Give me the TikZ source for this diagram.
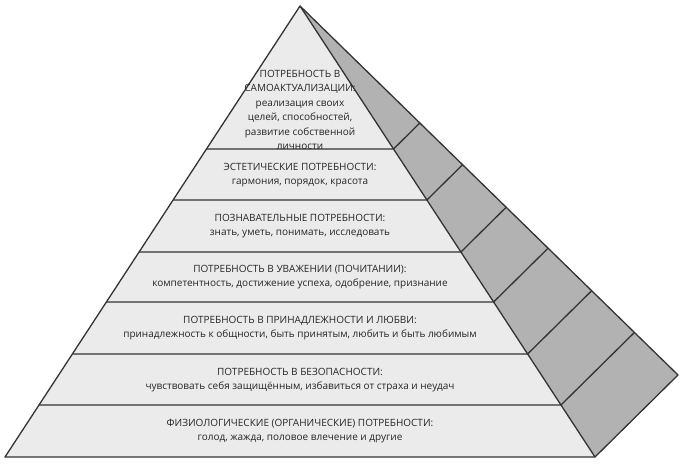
\documentclass[tikz,border=0pt]{standalone}
\usepackage{fontspec}
\setmainfont{Open Sans}
\usetikzlibrary{calc}
\begin{document}
\begin{tikzpicture}[x=1pt,y=-1pt,
  ln/.style={draw=black!80,line width=1.3pt,line join=round},
  lbl/.style={align=center,font=\fontsize{10}{14.5}\selectfont,text=black!85,inner sep=0pt}]
\useasboundingbox (0,0) rectangle (685,465);
\coordinate (A) at (300,6);
\coordinate (L) at (5,457);
\coordinate (R) at (595,457);
\coordinate (B) at (678,375);
\fill[black!30] (A)--(B)--(R)--cycle;
\fill[black!8] (A)--(L)--(R)--cycle;
\foreach \y in {149,200,252,302,354,405}{
  \pgfmathsetmacro{\s}{(\y-6)/451}
  \draw[ln] ($(A)!\s!(L)$) -- ($(A)!\s!(R)$) -- ($(A)!\s!(B)$);
}
\draw[ln] (A)--(L)--(R)--cycle;
\draw[ln] (A)--(B)--(R);
\node[lbl] (t1) at (300,110) {ПОТРЕБНОСТЬ В\\САМОАКТУАЛИЗАЦИИ:\\реализация своих\\целей, способностей,\\развитие собственной\\личности};
\node[lbl] (t2) at (300,175) {ЭСТЕТИЧЕСКИЕ ПОТРЕБНОСТИ:\\гармония, порядок, красота};
\node[lbl] (t3) at (300,226) {ПОЗНАВАТЕЛЬНЫЕ ПОТРЕБНОСТИ:\\знать, уметь, понимать, исследовать};
\node[lbl] (t4) at (300,277) {ПОТРЕБНОСТЬ В УВАЖЕНИИ (ПОЧИТАНИИ):\\компетентность, достижение успеха, одобрение, признание};
\node[lbl] (t5) at (300,328) {ПОТРЕБНОСТЬ В ПРИНАДЛЕЖНОСТИ И ЛЮБВИ:\\принадлежность к общности, быть принятым, любить и быть любимым};
\node[lbl] (t6) at (300,380) {ПОТРЕБНОСТЬ В БЕЗОПАСНОСТИ:\\чувствовать себя защищённым, избавиться от страха и неудач};
\node[lbl] (t7) at (300,431) {ФИЗИОЛОГИЧЕСКИЕ (ОРГАНИЧЕСКИЕ) ПОТРЕБНОСТИ:\\голод, жажда, половое влечение и другие};
\end{tikzpicture}
\end{document}
